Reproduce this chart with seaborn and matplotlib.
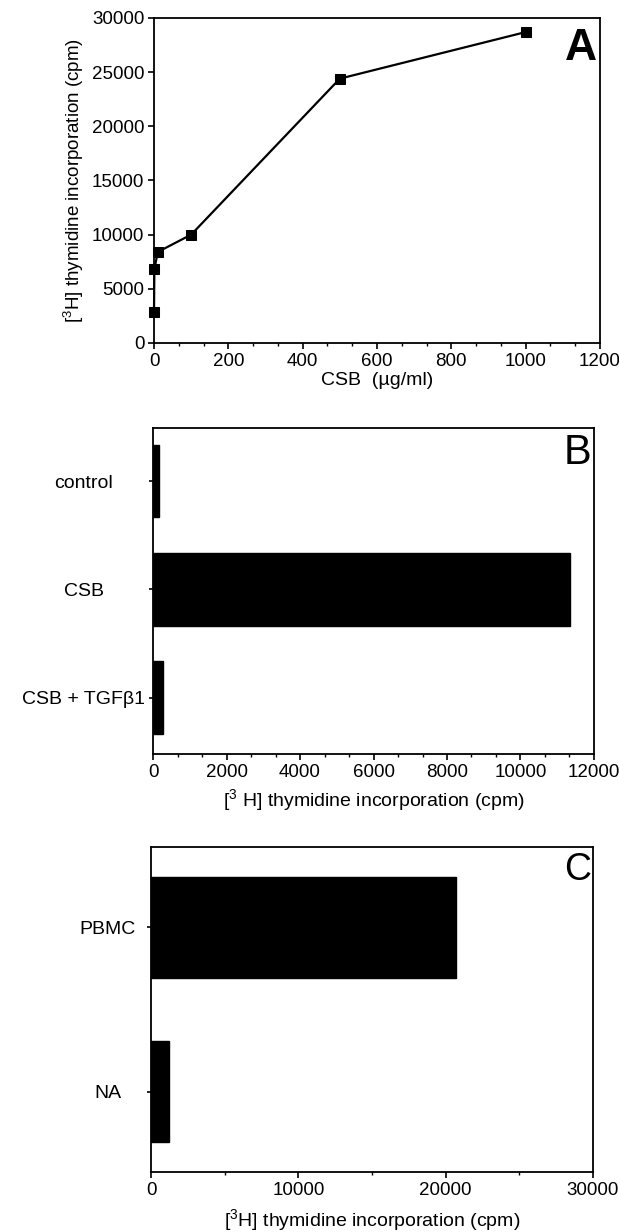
import numpy as np
import pandas as pd
import matplotlib
matplotlib.use("Agg")
import matplotlib.pyplot as plt
from matplotlib.ticker import AutoMinorLocator, MultipleLocator
import seaborn as sns

# Panel A: dose response
csb_dose = [0, 1, 10, 100, 500, 1000]
dose_cpm = [2900, 6800, 8400, 10000, 24400, 28700]

# Panel B: TGF-beta inhibition
b_groups = ["control", "CSB", "CSB + TGF\u03b21"]
b_cpm = [150, 11350, 270]

# Panel C: cell types
c_groups = ["PBMC", "NA"]
c_cpm = [20700, 1200]

CPM_LABEL = r"[$^{3}$H] thymidine incorporation (cpm)"

sns.set_style("ticks")
plt.rcParams["font.family"] = ["Liberation Sans", "DejaVu Sans"]
plt.rcParams["mathtext.fontset"] = "custom"
plt.rcParams["mathtext.rm"] = "Liberation Sans"
plt.rcParams["axes.edgecolor"] = "black"
plt.rcParams["axes.labelcolor"] = "black"
plt.rcParams["text.color"] = "black"
plt.rcParams["axes.linewidth"] = 1.3
plt.rcParams["xtick.color"] = "black"
plt.rcParams["ytick.color"] = "black"

fig = plt.figure(figsize=(6.19, 12.32), dpi=100)
ax_a = fig.add_axes([0.2488, 0.7216, 0.7205, 0.2638])
ax_b = fig.add_axes([0.2472, 0.3880, 0.7124, 0.2646])
ax_c = fig.add_axes([0.2440, 0.0487, 0.7140, 0.2638])

for ax in (ax_a, ax_b, ax_c):
    for s in ax.spines.values():
        s.set_visible(True)
        s.set_color("black")
    ax.tick_params(axis="both", which="major", direction="out", length=4, width=1.2,
                   labelsize=13.5, colors="black", pad=3)
    ax.tick_params(axis="both", which="minor", direction="out", length=2.5, width=1.0)

# --- A ---
dfa = pd.DataFrame({"dose": csb_dose, "cpm": dose_cpm})
sns.lineplot(data=dfa, x="dose", y="cpm", ax=ax_a, color="black", lw=1.6,
             marker="s", markersize=6.5, markeredgecolor="black", clip_on=False)
ax_a.set_xlim(0, 1200)
ax_a.set_ylim(0, 30000)
ax_a.xaxis.set_major_locator(MultipleLocator(200))
ax_a.xaxis.set_minor_locator(AutoMinorLocator(3))
ax_a.yaxis.set_major_locator(MultipleLocator(5000))
ax_a.set_xlabel("CSB  (\u00b5g/ml)", fontsize=14, labelpad=2)
ax_a.set_ylabel(CPM_LABEL, fontsize=13.5, labelpad=4)
ax_a.text(0.993, 0.97, "A", transform=ax_a.transAxes, ha="right", va="top",
          fontsize=32, fontweight="bold")

# --- B ---
dfb = pd.DataFrame({"group": b_groups, "cpm": b_cpm})
sns.barplot(data=dfb, x="cpm", y="group", ax=ax_b, color="black", orient="h",
            width=0.67, edgecolor="black", saturation=1)
ax_b.set_xlim(0, 12000)
ax_b.set_ylim(2.52, -0.49)
ax_b.xaxis.set_major_locator(MultipleLocator(2000))
ax_b.xaxis.set_minor_locator(AutoMinorLocator(3))
ax_b.tick_params(axis="y", length=3, pad=47, labelsize=14)
for t in ax_b.get_yticklabels():
    t.set_ha("center")
ax_b.set_ylabel("")
ax_b.set_xlabel(r"[$^{3}$ H] thymidine incorporation (cpm)", fontsize=14, labelpad=5)
ax_b.text(0.995, 0.985, "B", transform=ax_b.transAxes, ha="right", va="top",
          fontsize=30)

# --- C ---
dfc = pd.DataFrame({"group": c_groups, "cpm": c_cpm})
sns.barplot(data=dfc, x="cpm", y="group", ax=ax_c, color="black", orient="h",
            width=0.62, edgecolor="black", saturation=1)
ax_c.set_xlim(0, 30000)
ax_c.set_ylim(1.49, -0.49)
ax_c.xaxis.set_major_locator(MultipleLocator(10000))
ax_c.xaxis.set_minor_locator(AutoMinorLocator(2))
ax_c.tick_params(axis="y", length=3, pad=28, labelsize=14)
for t in ax_c.get_yticklabels():
    t.set_ha("center")
ax_c.set_ylabel("")
ax_c.set_xlabel(CPM_LABEL, fontsize=14, labelpad=6)
ax_c.text(0.995, 0.985, "C", transform=ax_c.transAxes, ha="right", va="top",
          fontsize=27)

fig.savefig("out.png", dpi=100)
